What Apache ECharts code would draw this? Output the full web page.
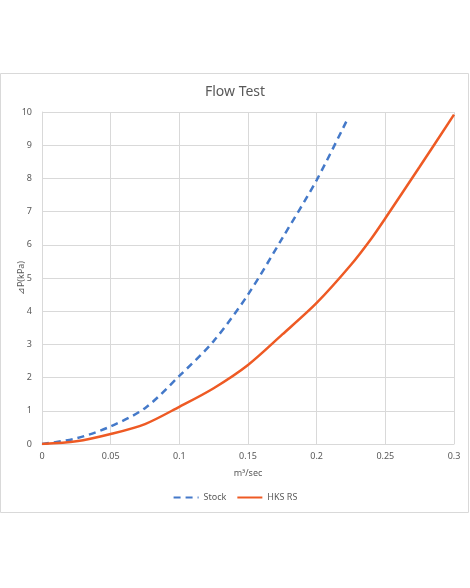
<!DOCTYPE html>
<html>
<head>
<meta charset="utf-8">
<script src="https://cdn.jsdelivr.net/npm/echarts@6/dist/echarts.min.js"></script>
<style>
  html, body { margin: 0; padding: 0; background: #fff; }
  #chart { width: 470px; height: 588px; }
</style>
</head>
<body>
<div id="chart"></div>
<script>
// flow rate (m³/sec) vs pressure drop (kPa)
const stockFlow = [0, 0.025, 0.05, 0.075, 0.1, 0.125, 0.15, 0.175, 0.2, 0.222];
const stockDp = [0, 0.17, 0.53, 1.08, 2.05, 3.1, 4.5, 6.2, 7.95, 9.75];
const hksFlow = [0, 0.025, 0.05, 0.075, 0.1, 0.125, 0.15, 0.175, 0.2, 0.225, 0.24, 0.25, 0.275, 0.3];
const hksDp = [0, 0.08, 0.3, 0.6, 1.12, 1.68, 2.38, 3.3, 4.25, 5.4, 6.2, 6.8, 8.35, 9.92];

const textColor = "#595959";
const gridColor = "#D9D9D9";
const font = "Noto Sans";

const chart = echarts.init(document.getElementById("chart"));

chart.setOption({
  animation: false,
  textStyle: { fontFamily: font },
  title: {
    text: "Flow Test",
    left: "center",
    top: 80,
    textStyle: { fontSize: 14, fontWeight: "normal", color: textColor, fontFamily: font }
  },
  legend: {
    bottom: 81,
    left: "center",
    itemWidth: 25,
    itemHeight: 10,
    itemGap: 10,
    itemStyle: { opacity: 0 },
    textStyle: { fontSize: 9, color: textColor },
    data: ["Stock", "HKS RS"]
  },
  grid: { left: 42, right: 16, top: 112, bottom: 144, outerBoundsMode: "none" },
  xAxis: {
    type: "value",
    min: 0,
    max: 0.3,
    interval: 0.05,
    name: "m³/sec",
    nameLocation: "middle",
    nameGap: 25,
    nameTextStyle: { fontSize: 9, color: textColor },
    axisLine: { lineStyle: { color: gridColor } },
    axisTick: { show: false },
    axisLabel: { fontSize: 9, color: textColor, margin: 8 },
    splitLine: { show: true, lineStyle: { color: gridColor } }
  },
  yAxis: {
    type: "value",
    min: 0,
    max: 10,
    interval: 1,
    name: "⊿P(kPa)",
    nameLocation: "middle",
    nameGap: 16,
    nameMoveOverlap: false,
    nameTextStyle: { fontSize: 9, color: textColor },
    axisLine: { show: true, lineStyle: { color: gridColor } },
    axisTick: { show: false },
    axisLabel: { fontSize: 9, color: textColor, margin: 10 },
    splitLine: { lineStyle: { color: gridColor } }
  },
  graphic: [
    {
      type: "rect",
      shape: { x: 0.5, y: 73.5, width: 468, height: 439 },
      style: { fill: "none", stroke: gridColor, lineWidth: 1 },
      silent: true
    }
  ],
  series: [
    {
      name: "Stock",
      type: "line",
      smooth: 0.3,
      symbol: "none",
      data: stockFlow.map((x, i) => [x, stockDp[i]]),
      lineStyle: { color: "#4479C9", width: 2.5, type: [7, 5] },
      itemStyle: { color: "#4479C9" }
    },
    {
      name: "HKS RS",
      type: "line",
      smooth: 0.3,
      symbol: "none",
      data: hksFlow.map((x, i) => [x, hksDp[i]]),
      lineStyle: { color: "#EE5A24", width: 2.5 },
      itemStyle: { color: "#EE5A24" }
    }
  ]
});
</script>
</body>
</html>
